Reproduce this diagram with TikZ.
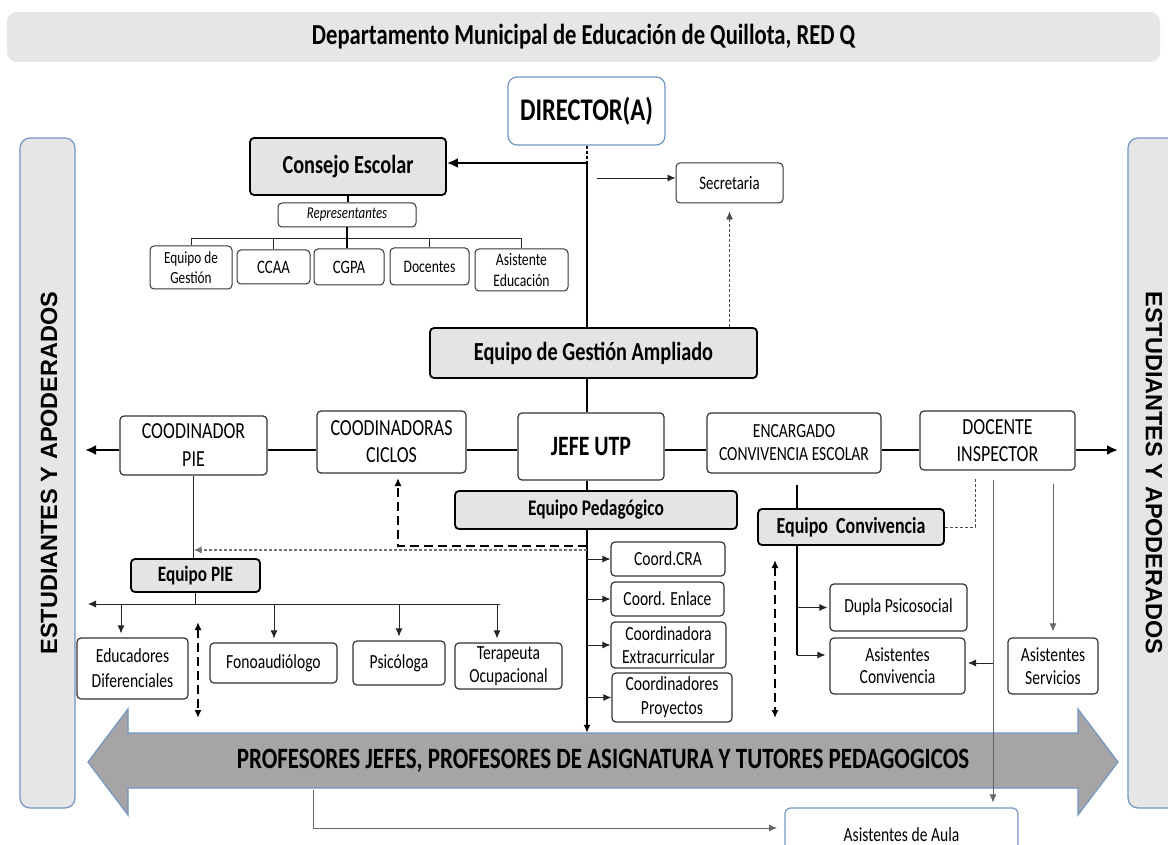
\documentclass[tikz,border=0pt]{standalone}
\usepackage{fontspec}
\setmainfont{Carlito}[FakeStretch=0.78]
\newfontfamily\sidefont{Liberation Sans}
\usetikzlibrary{positioning}
\usetikzlibrary{arrows.meta}

\definecolor{boxgray}{HTML}{E4E4E4}
\definecolor{bargray}{HTML}{E6E6E6}
\definecolor{blueline}{HTML}{7396C3}
\definecolor{bannergray}{HTML}{A6A4A4}
\definecolor{boxline}{HTML}{333333}

\begin{document}
\begin{tikzpicture}[
            x = 1pt, y = -1pt,
            >={Latex[length=8pt,width=7pt]},
            box/.style = {
                draw = boxline,
                rounded corners = 4pt,
                fill = white,
                line width = 1.2pt,
                align = center,
                inner sep = 0pt
            },
            graybox/.style = {box, fill = boxgray, draw = black, line width = 1.8pt},
            bluebox/.style = {box, draw = blueline, rounded corners = 9pt},
            sidebar/.style = {draw = blueline, fill = bargray, line width = 1.2pt,
                rounded corners = 10pt},
            sidetext/.style = {font = \sidefont\bfseries\fontsize{23.5}{25}\selectfont},
            sz/.style 2 args = {minimum width = #1pt, minimum height = #2pt},
            fs/.style 2 args = {font = \fontsize{#1}{#2}\selectfont},
            fsb/.style 2 args = {font = \fontsize{#1}{#2}\selectfont\bfseries},
            thickline/.style = {line width = 2.4pt},
            thinline/.style = {line width = 0.8pt, black!85},
            bigarr/.style = {-{Latex[length=11pt,width=10pt]}},
            dotline/.style = {line width = 0.8pt, black!70, dash pattern = on 3pt off 2pt},
            bigdash/.style = {line width = 2.2pt, dash pattern = on 9pt off 5pt}
            ]
            \useasboundingbox (0,0) rectangle (1168,845);
            \fill[white] (0,0) rectangle (1168,845);
            \clip (0,0) rectangle (1168,845);

            % cabecera y costados
            \node[sidebar, draw = none, fill = bargray, sz={1153}{50}, fsb={29}{31}] (title) at (583.5,37)
                {Departamento Municipal de Educación de Quillota, RED Q};
            \node[bluebox, sz={157}{68}, fsb={31.5}{33}] (director) at (586.5,111) {DIRECTOR(A)};
            \node[sidebar, sz={55}{670}] (leftbar) at (47.5,473) {};
            \node[sidetext, rotate=90] (lefttext) at (49,473) {ESTUDIANTES Y APODERADOS};
            \node[sidebar, sz={64}{670}] (rightbar) at (1160,473) {};
            \node[sidetext, rotate=-90] (righttext) at (1154,473) {ESTUDIANTES Y APODERADOS};

            % consejo escolar
            \node[graybox, sz={196}{57}, fsb={26}{28}] (consejo) at (348,166.5) {Consejo Escolar};
            \node[box, line width = 1pt, sz={107}{40}, fs={19}{21}] (secretaria) at (729.5,183) {Secretaria};
            \node[box, line width = 1pt, sz={138}{24}, fs={16.5}{18}] (repres) at (347,215) {\itshape Representantes};
            \node[box, line width = 1pt, sz={82}{43}, fs={17}{20}] (eqgestion) at (191,267.5) {Equipo de\\Gestión};
            \node[box, line width = 1pt, sz={73}{34}, fs={19}{21}] (ccaa) at (273.5,267) {CCAA};
            \node[box, line width = 1pt, sz={70}{36}, fs={19}{21}] (cgpa) at (349,267) {CGPA};
            \node[box, line width = 1pt, sz={79}{37}, fs={17.5}{20}] (docentes) at (429.5,266.5) {Docentes};
            \node[box, line width = 1pt, sz={93}{42}, fs={17.5}{21}] (asistedu) at (521.5,270) {Asistente\\Educación};

            % equipo de gestion y fila de cargos
            \node[graybox, sz={327}{50}, fsb={26}{28}] (ampliado) at (593.5,353) {Equipo de Gestión Ampliado};
            \node[box, sz={147}{59}, fs={23}{28}] (coodpie) at (193.5,445.5) {COODINADOR\\PIE};
            \node[box, sz={149}{62}, fs={23}{27}] (ciclos) at (391.5,442) {COODINADORAS\\CICLOS};
            \node[box, sz={146}{67}, fsb={28}{30}] (jefe) at (591,446.5) {JEFE UTP};
            \node[box, sz={174}{60}, fs={20}{23}] (encargado) at (794,443) {ENCARGADO\\CONVIVENCIA ESCOLAR};
            \node[box, sz={155}{59}, fs={23}{27}] (docente) at (997.5,440.5) {DOCENTE\\INSPECTOR};

            % equipo pedagogico
            \node[graybox, sz={282}{38}, fsb={22.3}{24}] (pedag) at (596,510) {Equipo Pedagógico};
            \node[box, sz={114}{34}, fs={20}{22}] (cra) at (668,559) {Coord.CRA};
            \node[box, sz={113}{34}, fs={20}{22}] (enlace) at (667.5,599) {Coord. Enlace};
            \node[box, sz={115}{46}, fs={20}{23}] (extra) at (668.5,645) {Coordinadora\\Extracurricular};
            \node[box, sz={120}{49}, fs={20}{24}] (proyectos) at (672,697.5) {Coordinadores\\Proyectos};

            % equipo PIE
            \node[graybox, sz={129}{33}, fsb={22}{24}] (eqpie) at (195.5,575.5) {Equipo PIE};
            \node[box, sz={111}{61}, fs={20}{25}] (educ) at (132.5,668.5) {Educadores\\Diferenciales};
            \node[box, sz={127}{40}, fs={20}{22}] (fono) at (273.5,663) {Fonoaudiólogo};
            \node[box, sz={92}{44}, fs={20}{22}] (psico) at (399,663) {Psicóloga};
            \node[box, sz={107}{46}, fs={20}{23}] (terap) at (508.5,666) {Terapeuta\\Ocupacional};

            % equipo convivencia
            \node[graybox, sz={186}{36}, fsb={23}{25}] (eqconv) at (851,527) {Equipo\ \ Convivencia};
            \node[box, sz={137}{47}, fs={20}{22}] (dupla) at (898.5,607.5) {Dupla Psicosocial};
            \node[box, sz={135}{56}, fs={20}{22}] (asisconv) at (897.5,666) {Asistentes\\Convivencia};
            \node[box, sz={90}{56}, fs={20}{23}] (asisserv) at (1053,666) {Asistentes\\Servicios};
            \node[bluebox, rounded corners = 6pt, sz={233}{54}, fs={20}{22}] (aula) at (901.5,835) {Asistentes de Aula};

            % flecha de profesores
            \draw[draw = blueline, fill = bannergray, line width = 1.2pt]
                (88,762) -- (128,709) -- (128,733) -- (1078,733) -- (1078,709) -- (1118,762)
                -- (1078,815) -- (1078,788) -- (128,788) -- (128,815) -- cycle;
            \node[sz={950}{55}, inner sep = 0pt, fsb={29.5}{31}] (banner) at (603,760.5)
                {PROFESORES JEFES, PROFESORES DE ASIGNATURA Y TUTORES PEDAGOGICOS};

            % tronco del director
            \coordinate (t0) at (587,163);
            \draw[thickline, dashed, dash pattern = on 3pt off 2pt] (director.south -| t0) -- (t0);
            \draw[thickline, bigarr] (t0) -- (t0 -| consejo.east);
            \draw[thickline] (t0) -- (t0 |- ampliado.north);
            \draw[thickline] (t0 |- ampliado.south) -- (t0 |- jefe.north);
            \draw[thickline] (t0 |- jefe.south) -- (t0 |- pedag.north);
            \draw[thickline, ->] (t0 |- pedag.south) -- (t0 |- banner.north);
            \coordinate (s0) at (597,178);
            \draw[thinline, ->] (s0) -- (s0 -| secretaria.west);
            \draw[dotline, ->, shorten >= 8pt] (ampliado.north -| secretaria.south) -- (secretaria.south);

            % representantes
            \coordinate (rb) at (347,238);
            \draw[thickline] (consejo.south) -- (consejo.south |- repres.north);
            \draw[thickline] (repres.south) -- (repres.south |- cgpa.north);
            \draw[thinline] (eqgestion.north) -- (eqgestion.north |- rb) -- (asistedu.north |- rb) -- (asistedu.north);
            \foreach \n in {ccaa,docentes}
                \draw[thinline] (\n.north |- rb) -- (\n.north);

            % fila de cargos
            \coordinate (r0) at (0,450);
            \coordinate (rl) at (85,450);
            \coordinate (rr) at (1118,450);
            \draw[thickline, bigarr] (coodpie.west |- r0) -- (rl);
            \draw[thickline] (coodpie.east |- r0) -- (ciclos.west |- r0);
            \draw[thickline] (ciclos.east |- r0) -- (jefe.west |- r0);
            \draw[thickline] (jefe.east |- r0) -- (encargado.west |- r0);
            \draw[thickline] (encargado.east |- r0) -- (docente.west |- r0);
            \draw[thickline, bigarr] (docente.east |- r0) -- (rr);

            % coordinaciones
            \foreach \n in {cra,enlace,extra,proyectos}
                \draw[thinline, ->] (t0 |- \n.west) -- (\n.west);
            \coordinate (d1) at (587,546);
            \coordinate (d1a) at (398,478);
            \draw[bigdash, ->] (d1) -| (d1a);
            \coordinate (d2) at (587,550);
            \draw[dotline, line width = 1.6pt, black!55, ->] (d2) -- (d2 -| coodpie.south);

            % PIE
            \coordinate (b0) at (0,604);
            \coordinate (bl) at (88,604);
            \draw[thinline] (coodpie.south) -- (coodpie.south |- eqpie.north);
            \draw[thinline] (eqpie.south) -- (eqpie.south |- b0);
            \draw[thinline, ->] (500,604) -- (bl);
            \foreach \n/\x in {educ/121,fono/274,psico/399,terap/497}
                \draw[thinline, ->, shorten >= 4pt] (\x,604) -- (\x,0 |- \n.north);
            \coordinate (v1a) at (198,622);
            \coordinate (v1b) at (198,718);
            \draw[bigdash, <->] (v1a) -- (v1b);

            % convivencia
            \coordinate (c0) at (797,485);
            \coordinate (c1) at (797,655);
            \coordinate (c2) at (975,478);
            \draw[thickline] (c0) -- (c0 |- eqconv.north);
            \draw[thickline] (c0 |- eqconv.south) -- (c1);
            \draw[thinline, ->, shorten >= 2pt] (c0 |- dupla.west) -- (dupla.west);
            \draw[thinline, ->, shorten >= 4pt] (c1) -- (c1 -| asisconv.west);
            \draw[dotline] (eqconv.east) -| (c2);
            \coordinate (v2a) at (775,560);
            \coordinate (v2b) at (775,718);
            \draw[bigdash, <->] (v2a) -- (v2b);

            % inspector
            \coordinate (a0) at (993,480);
            \coordinate (a1) at (1053,484);
            \draw[thinline, black!60, ->, shorten >= 5pt] (a0) -- (a0 |- aula.north);
            \draw[thinline, ->, shorten >= 5pt] (993,663) -- (963,663);
            \draw[thinline, black!60, ->, shorten >= 6pt] (a1) -- (asisserv.north);

            % hacia asistentes de aula
            \coordinate (l0) at (313,790);
            \coordinate (l1) at (777,828);
            \draw[thinline, black!60, ->] (l0) |- (l1);
        \end{tikzpicture}
\end{document}
